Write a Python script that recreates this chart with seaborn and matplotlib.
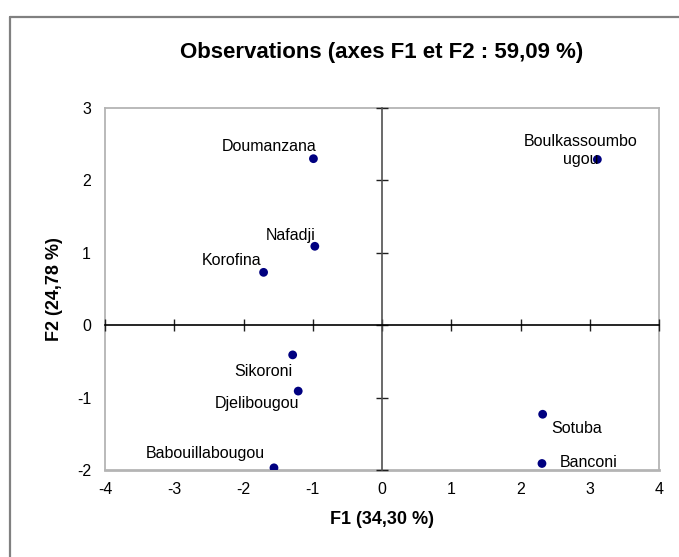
import matplotlib
matplotlib.use("Agg")
import matplotlib.pyplot as plt
from matplotlib.lines import Line2D
import seaborn as sns
import pandas as pd

# ---- data ----
names = ["Doumanzana", "Nafadji", "Korofina", "Boulkassoumbo\nugou",
         "Sikoroni", "Djelibougou", "Babouillabougou", "Sotuba", "Banconi"]
f1 = [-0.99, -0.97, -1.71, 3.11, -1.29, -1.21, -1.56, 2.32, 2.31]
f2 = [2.30, 1.09, 0.73, 2.29, -0.41, -0.91, -1.97, -1.23, -1.91]
x_ticks = [-4, -3, -2, -1, 0, 1, 2, 3, 4]
y_ticks = [-2, -1, 0, 1, 2, 3]
title = "Observations (axes F1 et F2 : 59,09 %)"
x_label = "F1 (34,30 %)"
y_label = "F2 (24,78 %)"

# label placement (pixel offsets, alignment) - styling only
label_style = {
    "Doumanzana": ((3, 8), "right", "baseline"),
    "Nafadji": ((1, 6), "right", "baseline"),
    "Korofina": ((-2, 7), "right", "baseline"),
    "Boulkassoumbo\nugou": ((-17, 9), "center", "center"),
    "Sikoroni": ((0, -21), "right", "baseline"),
    "Djelibougou": ((1, -17), "right", "baseline"),
    "Babouillabougou": ((-9, 10), "right", "baseline"),
    "Sotuba": ((9, -19), "left", "baseline"),
    "Banconi": ((18, -4), "left", "baseline"),
}

df = pd.DataFrame({"name": names, "F1": f1, "F2": f2})

sns.set_style("white")
plt.rcParams["font.family"] = ["Liberation Sans", "DejaVu Sans"]
plt.rcParams["text.color"] = "black"
plt.rcParams["axes.labelcolor"] = "black"
plt.rcParams["axes.titlecolor"] = "black"
plt.rcParams["xtick.color"] = "black"
plt.rcParams["ytick.color"] = "black"

W, H = 679, 557
fig = plt.figure(figsize=(W / 100, H / 100), dpi=100)
fig.patch.set_facecolor("white")

l, r, t, b = 105, 659, 108, 470
pos = [l / W, 1 - b / H, (r - l) / W, (b - t) / H]
ax = fig.add_axes(pos)

sns.scatterplot(data=df, x="F1", y="F2", ax=ax, color="#000080",
                s=40, edgecolor="none", zorder=5, legend=False)

ax.set_xlim(x_ticks[0], x_ticks[-1])
ax.set_ylim(y_ticks[0], y_ticks[-1])
ax.set_xticks(x_ticks)
ax.set_yticks(y_ticks)
ax.set_xticklabels([str(v) for v in x_ticks])
ax.set_yticklabels([str(v) for v in y_ticks])
ax.tick_params(axis="both", length=0, labelsize=11.5, labelcolor="black")
ax.tick_params(axis="x", pad=9)
ax.tick_params(axis="y", pad=10)
for sp in ax.spines.values():
    sp.set_color("#b4b4b4")
    sp.set_linewidth(1.3)
ax.spines["bottom"].set_linewidth(2.0)

ax.set_xlabel(x_label, fontsize=13, fontweight="bold", labelpad=10, color="black")
ax.set_ylabel(y_label, fontsize=13, fontweight="bold", labelpad=10, color="black")
ax.set_title(title, fontsize=16, fontweight="bold", pad=36, color="black")

# centre axes with crossing ticks
ax2 = fig.add_axes(pos, sharex=ax, sharey=ax)
ax2.patch.set_visible(False)
ax2.spines["left"].set_position(("data", 0))
ax2.spines["bottom"].set_position(("data", 0))
ax2.spines["top"].set_visible(False)
ax2.spines["right"].set_visible(False)
ax2.spines["left"].set_color("#505050")
ax2.spines["bottom"].set_color("#000000")
ax2.spines["left"].set_linewidth(1.2)
ax2.spines["bottom"].set_linewidth(1.2)
ax2.tick_params(axis="both", direction="inout", length=8, width=1.0,
                bottom=True, left=True, top=False, right=False,
                labelleft=False, labelbottom=False, color="#202020")
ax2.set_xlabel("")
ax2.set_ylabel("")

for n, x, y in zip(names, f1, f2):
    off, ha, va = label_style[n]
    ax2.annotate(n, (x, y), xytext=off, textcoords="offset pixels",
                 ha=ha, va=va, fontsize=11.5, multialignment="center",
                 linespacing=1.2, zorder=6, color="black")

# outer chart border (left and top visible)
bx, by = 10 / W, 1 - 17 / H
fig.add_artist(Line2D([bx, bx], [0, by], transform=fig.transFigure,
                      color="#808080", lw=1.6))
fig.add_artist(Line2D([bx, 1], [by, by], transform=fig.transFigure,
                      color="#808080", lw=1.6))

fig.savefig("out.png", dpi=100, facecolor="white")
